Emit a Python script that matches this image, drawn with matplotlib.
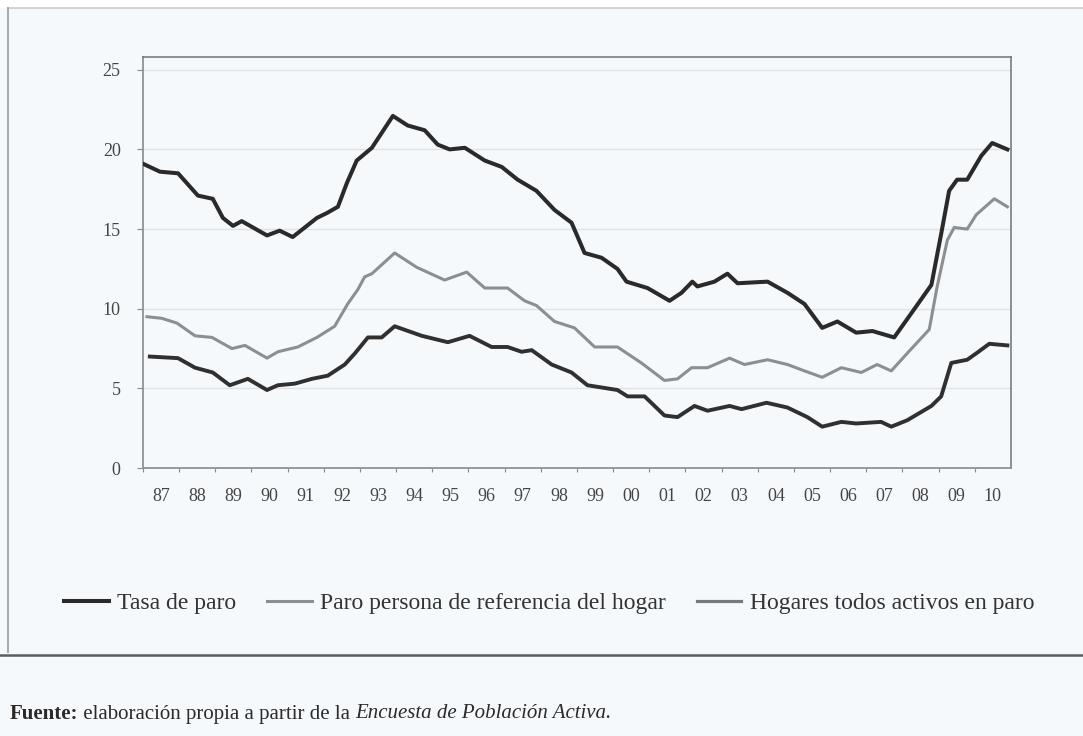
import matplotlib.pyplot as plt
from matplotlib.lines import Line2D
from matplotlib.patches import Rectangle

# Tasa de paro (EPA), read at the turning points of each series
tasa_year = [1987.00, 1987.47, 1987.97, 1988.52, 1988.93, 1989.21, 1989.49, 1989.73,
             1990.43, 1990.78, 1991.14, 1991.81, 1992.08, 1992.39, 1992.64, 1992.91,
             1993.33, 1993.91, 1994.32, 1994.79, 1995.15, 1995.48, 1995.90, 1996.45,
             1996.92, 1997.36, 1997.88, 1998.38, 1998.85, 1999.21, 1999.68, 2000.12,
             2000.37, 2000.95, 2001.56, 2001.89, 2002.19, 2002.33, 2002.80, 2003.16,
             2003.44, 2004.27, 2004.82, 2005.29, 2005.78, 2006.20, 2006.72, 2007.17,
             2007.77, 2008.24, 2008.80, 2009.07, 2009.29, 2009.51, 2009.79, 2010.18,
             2010.48, 2010.90]
tasa_val = [19.1, 18.6, 18.5, 17.1, 16.9, 15.7, 15.2, 15.5,
            14.6, 14.9, 14.5, 15.7, 16.0, 16.4, 17.9, 19.3,
            20.1, 22.1, 21.5, 21.2, 20.3, 20.0, 20.1, 19.3,
            18.9, 18.1, 17.4, 16.2, 15.4, 13.5, 13.2, 12.5,
            11.7, 11.3, 10.5, 11.0, 11.7, 11.4, 11.7, 12.2,
            11.6, 11.7, 11.0, 10.3, 8.8, 9.2, 8.5, 8.6,
            8.2, 9.7, 11.5, 14.7, 17.4, 18.1, 18.1, 19.6,
            20.4, 20.0]

# Paro persona de referencia del hogar
ref_year = [1987.11, 1987.52, 1987.94, 1988.44, 1988.91, 1989.46, 1989.82, 1990.43,
            1990.73, 1991.28, 1991.81, 1992.30, 1992.66, 1992.94, 1993.13, 1993.33,
            1993.96, 1994.57, 1995.34, 1995.95, 1996.45, 1997.08, 1997.55, 1997.88,
            1998.38, 1998.93, 1999.49, 2000.12, 2000.78, 2001.42, 2001.78, 2002.17,
            2002.61, 2003.22, 2003.63, 2004.27, 2004.82, 2005.29, 2005.78, 2006.31,
            2006.86, 2007.30, 2007.69, 2008.13, 2008.74, 2008.96, 2009.24, 2009.43,
            2009.79, 2010.04, 2010.54, 2010.90]
ref_val = [9.5, 9.4, 9.1, 8.3, 8.2, 7.5, 7.7, 6.9,
           7.3, 7.6, 8.2, 8.9, 10.3, 11.2, 12.0, 12.2,
           13.5, 12.6, 11.8, 12.3, 11.3, 11.3, 10.5, 10.2,
           9.2, 8.8, 7.6, 7.6, 6.6, 5.5, 5.6, 6.3,
           6.3, 6.9, 6.5, 6.8, 6.5, 6.1, 5.7, 6.3,
           6.0, 6.5, 6.1, 7.2, 8.7, 11.4, 14.3, 15.1,
           15.0, 15.9, 16.9, 16.4]

# Hogares con todos los activos en paro
hog_year = [1987.19, 1987.97, 1988.44, 1988.93, 1989.40, 1989.90, 1990.43, 1990.73,
            1991.20, 1991.67, 1992.11, 1992.58, 1992.86, 1993.22, 1993.60, 1993.96,
            1994.71, 1995.43, 1996.03, 1996.64, 1997.08, 1997.47, 1997.75, 1998.30,
            1998.85, 1999.29, 2000.12, 2000.40, 2000.87, 2001.42, 2001.78, 2002.25,
            2002.61, 2003.22, 2003.55, 2004.24, 2004.82, 2005.37, 2005.78, 2006.31,
            2006.72, 2007.41, 2007.69, 2008.13, 2008.80, 2009.07, 2009.35, 2009.79,
            2010.04, 2010.40, 2010.90]
hog_val = [7.0, 6.9, 6.3, 6.0, 5.2, 5.6, 4.9, 5.2,
           5.3, 5.6, 5.8, 6.5, 7.2, 8.2, 8.2, 8.9,
           8.3, 7.9, 8.3, 7.6, 7.6, 7.3, 7.4, 6.5,
           6.0, 5.2, 4.9, 4.5, 4.5, 3.3, 3.2, 3.9,
           3.6, 3.9, 3.7, 4.1, 3.8, 3.2, 2.6, 2.9,
           2.8, 2.9, 2.6, 3.0, 3.9, 4.5, 6.6, 6.8,
           7.2, 7.8, 7.7]

years = list(range(1987, 2011))
year_labels = ['87', '88', '89', '90', '91', '92', '93', '94', '95', '96', '97', '98',
               '99', '00', '01', '02', '03', '04', '05', '06', '07', '08', '09', '10']

bg = '#f6f9fc'
serif = ['Liberation Serif', 'DejaVu Serif']
plt.rcParams['font.family'] = serif

fig = plt.figure(figsize=(10.83, 7.36), dpi=100, facecolor=bg)
ax = fig.add_axes([0.132, 0.364, 0.8015, 0.5586], facecolor=bg)

# page frame: thin border round the figure box, heavy rule under it
fig.patches.append(Rectangle((0, 1 - 8 / 736), 1, 8 / 736, transform=fig.transFigure,
                             facecolor='white', edgecolor='none', zorder=0))
fig.lines.append(Line2D([8 / 1083, 1], [1 - 8 / 736] * 2, transform=fig.transFigure,
                        color='#c8ccd0', lw=1.2))
fig.lines.append(Line2D([8 / 1083] * 2, [1 - 8 / 736, 1 - 652 / 736], transform=fig.transFigure,
                        color='#a9adb2', lw=1.5))
fig.lines.append(Line2D([0, 1], [1 - 655 / 736] * 2, transform=fig.transFigure,
                        color='#5a5d61', lw=1.8))

for y in [5, 10, 15, 20, 25]:
    ax.axhline(y, color='#dfe2e6', lw=1.0, zorder=1)

ax.plot(tasa_year, tasa_val, color='#2a2a2a', lw=2.9, solid_joinstyle='round',
        label='Tasa de paro', zorder=3)
ax.plot(ref_year, ref_val, color='#8c8e91', lw=2.2, solid_joinstyle='round',
        label='Paro persona de referencia del hogar', zorder=3)
ax.plot(hog_year, hog_val, color='#303030', lw=2.8, solid_joinstyle='round',
        label='Hogares todos activos en paro', zorder=3)

ax.set_xlim(1987, 2011)
ax.set_ylim(0, 25.8)
ax.set_yticks([0, 5, 10, 15, 20, 25])
ax.set_xticks(years)
ax.set_xticklabels([])
ax.set_xticks([y + 0.5 for y in years], minor=True)
ax.set_xticklabels(year_labels, minor=True)
ax.tick_params(axis='x', which='major', length=3, color='#888888', direction='out')
ax.tick_params(axis='x', which='minor', length=0, labelsize=13, labelcolor='#444444', pad=14)
ax.tick_params(axis='y', length=4, color='#888888', labelsize=13, labelcolor='#444444', pad=12)
for side in ['left', 'bottom']:
    ax.spines[side].set_color('#8f9396')
    ax.spines[side].set_linewidth(1.3)
for side in ['top', 'right']:
    ax.spines[side].set_color('#6e7175')
    ax.spines[side].set_linewidth(1.1)

leg = fig.legend(loc='center', bbox_to_anchor=(0.507, 1 - 603 / 736), ncol=3,
                 frameon=False, fontsize=17, handlelength=1.9, handletextpad=0.35,
                 columnspacing=1.3)
for t in leg.get_texts():
    t.set_color('#333333')
# the printed key shows the last series' sample in a lighter grey
leg.get_lines()[2].set_color('#77797c')
leg.get_lines()[2].set_linewidth(2.3)

# source line: bold lead, plain text, italic survey name
fig.canvas.draw()
renderer = fig.canvas.get_renderer()
x0, y0 = 10 / 1083, 1 - 714 / 736
parts = [('Fuente:', 'bold', 'normal'),
         (' elaboración propia a partir de la ', 'normal', 'normal'),
         ('Encuesta de Población Activa.', 'normal', 'italic')]
for txt, weight, style in parts:
    t = fig.text(x0, y0, txt, fontsize=15, fontweight=weight, fontstyle=style,
                 color='#2a2a2a', va='center', ha='left')
    bb = t.get_window_extent(renderer)
    x0 = bb.x1 / fig.bbox.width

fig.savefig('out.png', dpi=100, facecolor=bg)
